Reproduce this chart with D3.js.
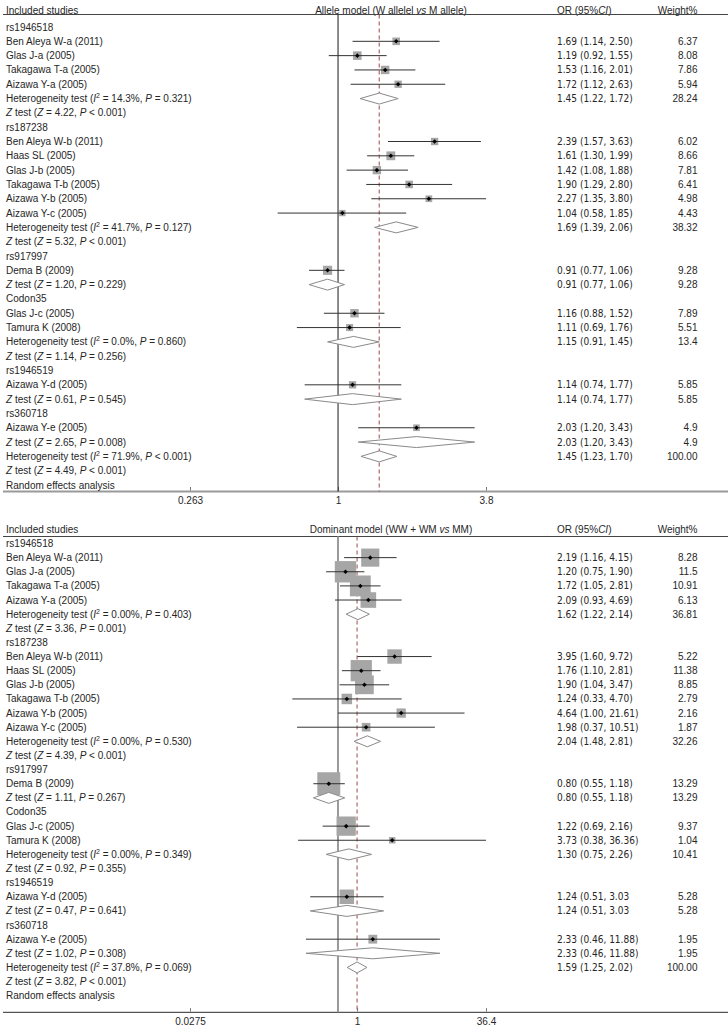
<!DOCTYPE html>
<html>
<head>
<meta charset="utf-8">
<script src="https://cdn.jsdelivr.net/npm/d3@7/dist/d3.min.js"></script>
<style>
  html, body { margin: 0; padding: 0; background: #fff; }
  svg { display: block; }
  text { font-family: "Liberation Sans", Arial, sans-serif; font-size: 10px; fill: #262626; }
  .num { font-family: "Liberation Sans Narrow", "Arial Narrow", "DejaVu Sans Condensed", sans-serif; }
</style>
</head>
<body>
<svg id="chart" width="728" height="1028"></svg>
<script>
// ---------------- DATA ----------------
// mark type per row: "sq" study square, "dm" pooled diamond, null = text only
const markType = [null,"sq","sq","sq","sq","dm",null,
  null,"sq","sq","sq","sq","sq","sq","dm",null,
  null,"sq","dm",
  null,"sq","sq","dm",null,
  null,"sq","dm",
  null,"sq","dm",
  "dm",null,null];

// Allele model
const alleleLabels = [
  "rs1946518","Ben Aleya W-a (2011)","Glas J-a (2005)","Takagawa T-a (2005)","Aizawa Y-a (2005)",
  "Heterogeneity test (_I_^2^ = 14.3%, _P_ = 0.321)","_Z_ test (_Z_ = 4.22, _P_ < 0.001)",
  "rs187238","Ben Aleya W-b (2011)","Haas SL (2005)","Glas J-b (2005)","Takagawa T-b (2005)","Aizawa Y-b (2005)","Aizawa Y-c (2005)",
  "Heterogeneity test (_I_^2^ = 41.7%, _P_ = 0.127)","_Z_ test (_Z_ = 5.32, _P_ < 0.001)",
  "rs917997","Dema B (2009)","_Z_ test (_Z_ = 1.20, _P_ = 0.229)",
  "Codon35","Glas J-c (2005)","Tamura K (2008)","Heterogeneity test (_I_^2^ = 0.0%, _P_ = 0.860)","_Z_ test (_Z_ = 1.14, _P_ = 0.256)",
  "rs1946519","Aizawa Y-d (2005)","_Z_ test (_Z_ = 0.61, _P_ = 0.545)",
  "rs360718","Aizawa Y-e (2005)","_Z_ test (_Z_ = 2.65, _P_ = 0.008)",
  "Heterogeneity test (_I_^2^ = 71.9%, _P_ < 0.001)","_Z_ test (_Z_ = 4.49, _P_ < 0.001)",
  "Random effects analysis"];
const alleleOR = [null,1.69,1.19,1.53,1.72,1.45,null, null,2.39,1.61,1.42,1.90,2.27,1.04,1.69,null,
  null,0.91,0.91, null,1.16,1.11,1.15,null, null,1.14,1.14, null,2.03,2.03, 1.45,null,null];
const alleleLo = [null,1.14,0.92,1.16,1.12,1.22,null, null,1.57,1.30,1.08,1.29,1.35,0.58,1.39,null,
  null,0.77,0.77, null,0.88,0.69,0.91,null, null,0.74,0.74, null,1.20,1.20, 1.23,null,null];
const alleleHi = [null,2.50,1.55,2.01,2.63,1.72,null, null,3.63,1.99,1.88,2.80,3.80,1.85,2.06,null,
  null,1.06,1.06, null,1.52,1.76,1.45,null, null,1.77,1.77, null,3.43,3.43, 1.70,null,null];
const alleleORText = [null,"1.69 (1.14, 2.50)","1.19 (0.92, 1.55)","1.53 (1.16, 2.01)","1.72 (1.12, 2.63)","1.45 (1.22, 1.72)",null,
  null,"2.39 (1.57, 3.63)","1.61 (1.30, 1.99)","1.42 (1.08, 1.88)","1.90 (1.29, 2.80)","2.27 (1.35, 3.80)","1.04 (0.58, 1.85)","1.69 (1.39, 2.06)",null,
  null,"0.91 (0.77, 1.06)","0.91 (0.77, 1.06)",
  null,"1.16 (0.88, 1.52)","1.11 (0.69, 1.76)","1.15 (0.91, 1.45)",null,
  null,"1.14 (0.74, 1.77)","1.14 (0.74, 1.77)",
  null,"2.03 (1.20, 3.43)","2.03 (1.20, 3.43)",
  "1.45 (1.23, 1.70)",null,null];
const alleleWeight = [null,"6.37","8.08","7.86","5.94","28.24",null,
  null,"6.02","8.66","7.81","6.41","4.98","4.43","38.32",null,
  null,"9.28","9.28", null,"7.89","5.51","13.4",null, null,"5.85","5.85", null,"4.9","4.9", "100.00",null,null];
const alleleTickValues = [0.263, 1, 3.8];
const alleleTickLabels = ["0.263","1","3.8"];

// Dominant model
const domLabels = [
  "rs1946518","Ben Aleya W-a (2011)","Glas J-a (2005)","Takagawa T-a (2005)","Aizawa Y-a (2005)",
  "Heterogeneity test (_I_^2^ = 0.00%, _P_ = 0.403)","_Z_ test (_Z_ = 3.36, _P_ = 0.001)",
  "rs187238","Ben Aleya W-b (2011)","Haas SL (2005)","Glas J-b (2005)","Takagawa T-b (2005)","Aizawa Y-b (2005)","Aizawa Y-c (2005)",
  "Heterogeneity test (_I_^2^ = 0.00%, _P_ = 0.530)","_Z_ test (_Z_ = 4.39, _P_ < 0.001)",
  "rs917997","Dema B (2009)","_Z_ test (_Z_ = 1.11, _P_ = 0.267)",
  "Codon35","Glas J-c (2005)","Tamura K (2008)","Heterogeneity test (_I_^2^ = 0.00%, _P_ = 0.349)","_Z_ test (_Z_ = 0.92, _P_ = 0.355)",
  "rs1946519","Aizawa Y-d (2005)","_Z_ test (_Z_ = 0.47, _P_ = 0.641)",
  "rs360718","Aizawa Y-e (2005)","_Z_ test (_Z_ = 1.02, _P_ = 0.308)",
  "Heterogeneity test (_I_^2^ = 37.8%, _P_ = 0.069)","_Z_ test (_Z_ = 3.82, _P_ < 0.001)",
  "Random effects analysis"];
const domOR = [null,2.19,1.20,1.72,2.09,1.62,null, null,3.95,1.76,1.90,1.24,4.64,1.98,2.04,null,
  null,0.80,0.80, null,1.22,3.73,1.30,null, null,1.24,1.24, null,2.33,2.33, 1.59,null,null];
const domLo = [null,1.16,0.75,1.05,0.93,1.22,null, null,1.60,1.10,1.04,0.33,1.00,0.37,1.48,null,
  null,0.55,0.55, null,0.69,0.38,0.75,null, null,0.51,0.51, null,0.46,0.46, 1.25,null,null];
const domHi = [null,4.15,1.90,2.81,4.69,2.14,null, null,9.72,2.81,3.47,4.70,21.61,10.51,2.81,null,
  null,1.18,1.18, null,2.16,36.36,2.26,null, null,3.03,3.03, null,11.88,11.88, 2.02,null,null];
const domORText = [null,"2.19 (1.16, 4.15)","1.20 (0.75, 1.90)","1.72 (1.05, 2.81)","2.09 (0.93, 4.69)","1.62 (1.22, 2.14)",null,
  null,"3.95 (1.60, 9.72)","1.76 (1.10, 2.81)","1.90 (1.04, 3.47)","1.24 (0.33, 4.70)","4.64 (1.00, 21.61)","1.98 (0.37, 10.51)","2.04 (1.48, 2.81)",null,
  null,"0.80 (0.55, 1.18)","0.80 (0.55, 1.18)",
  null,"1.22 (0.69, 2.16)","3.73 (0.38, 36.36)","1.30 (0.75, 2.26)",null,
  null,"1.24 (0.51, 3.03","1.24 (0.51, 3.03",
  null,"2.33 (0.46, 11.88)","2.33 (0.46, 11.88)",
  "1.59 (1.25, 2.02)",null,null];
const domWeight = [null,"8.28","11.5","10.91","6.13","36.81",null,
  null,"5.22","11.38","8.85","2.79","2.16","1.87","32.26",null,
  null,"13.29","13.29", null,"9.37","1.04","10.41",null, null,"5.28","5.28", null,"1.95","1.95", "100.00",null,null];
const domTickValues = [0.0275, 1.59, 36.4];   // the "1" label sits under the dashed pooled line in the original
const domTickLabels = ["0.0275","1","36.4"];

// ---------------- LAYOUT ----------------
const svg = d3.select("#chart");
svg.append("rect").attr("width",728).attr("height",1028).attr("fill","#fff");

const panels = [
  { labels: alleleLabels, or: alleleOR, lo: alleleLo, hi: alleleHi, orText: alleleORText, wText: alleleWeight,
    title: ["Allele model (W allelel ", "vs", " M allele)"],
    domain: [0.263, 3.8], tickValues: alleleTickValues, tickLabels: alleleTickLabels,
    headerY: 10, lineY: 14.5, row0: 27, rowN: 485, axisY: 491.5, tickLabelY: 500.5,
    sqMax: 30, refColor: "#1a1a1a", refWidth: 1, axisColor: "#9a9a9a", axisWidth: 2 },
  { labels: domLabels, or: domOR, lo: domLo, hi: domHi, orText: domORText, wText: domWeight,
    title: ["Dominant model (WW + WM ", "vs", " MM)"],
    domain: [0.0275, 36.4], tickValues: domTickValues, tickLabels: domTickLabels,
    headerY: 529, lineY: 536.5, row0: 543.5, rowN: 995.7, axisY: 1012.3, tickLabelY: 1021.7,
    sqMax: 63, refColor: "#9a9a9a", refWidth: 2, axisColor: "#555", axisWidth: 1.3 }
];

function richText(sel, str) {
  const parts = str.split(/(_[^_]+_|\^[^^]+\^)/).filter(s => s.length);
  let pendingDown = false;
  parts.forEach(p => {
    let t;
    if (p[0] === "_" && p[p.length-1] === "_") {
      t = sel.append("tspan").attr("font-style","italic").text(p.slice(1,-1));
    } else if (p[0] === "^" && p[p.length-1] === "^") {
      t = sel.append("tspan").attr("font-size","7px").attr("dy",-4).text(p.slice(1,-1));
      pendingDown = true; return;
    } else {
      t = sel.append("tspan").text(p);
    }
    if (pendingDown) { t.attr("dy", 4); pendingDown = false; }
  });
}

panels.forEach(P => {
  const g = svg.append("g");
  const n = P.labels.length;
  const x = d3.scaleLog().domain(P.domain).range([190, 486]);
  const y = d3.scaleLinear().domain([0, n-1]).range([P.row0, P.rowN]);
  const side = d3.scaleSqrt().domain([0,100]).range([0, P.sqMax]);
  const pooled = P.or[n-3];

  // header
  g.append("text").attr("x",6).attr("y",P.headerY).attr("dy","0.35em").text("Included studies");
  const tt = g.append("text").attr("x",391).attr("y",P.headerY).attr("dy","0.35em").attr("text-anchor","middle");
  tt.append("tspan").text(P.title[0]);
  tt.append("tspan").attr("font-style","italic").text(P.title[1]);
  tt.append("tspan").text(P.title[2]);
  const orh = g.append("text").attr("x",557).attr("y",P.headerY).attr("dy","0.35em");
  orh.append("tspan").text("OR (95%");
  orh.append("tspan").attr("font-style","italic").text("CI");
  orh.append("tspan").text(")");
  g.append("text").attr("x",697.5).attr("y",P.headerY).attr("dy","0.35em").attr("text-anchor","end").text("Weight%");
  g.append("line").attr("x1",3).attr("x2",728).attr("y1",P.lineY).attr("y2",P.lineY)
    .attr("stroke","#444").attr("stroke-width",1);

  // axis
  g.append("line").attr("x1",3).attr("x2",728).attr("y1",P.axisY).attr("y2",P.axisY)
    .attr("stroke",P.axisColor).attr("stroke-width",P.axisWidth);
  const axis = d3.axisBottom(x).tickValues(P.tickValues)
    .tickFormat((d,i) => P.tickLabels[i]).tickSizeInner(-3.5).tickSizeOuter(0).tickPadding(6);
  const ag = g.append("g").attr("transform",`translate(0,${P.axisY - P.axisWidth/2})`).call(axis);
  ag.select(".domain").remove();
  ag.selectAll(".tick line").attr("stroke","#777");
  ag.selectAll(".tick text").attr("y", P.tickLabelY - P.axisY + P.axisWidth/2).attr("dy","0.35em")
    .style("font-family",'"Liberation Sans", Arial, sans-serif').style("font-size","10px").attr("fill","#262626");

  // reference lines
  g.append("line").attr("x1",x(1)).attr("x2",x(1)).attr("y1",P.lineY).attr("y2",P.axisY)
    .attr("stroke",P.refColor).attr("stroke-width",P.refWidth);
  g.append("line").attr("x1",x(pooled)).attr("x2",x(pooled)).attr("y1",P.lineY).attr("y2",P.axisY)
    .attr("stroke","#9c4a4a").attr("stroke-width",1).attr("stroke-dasharray","4,3");

  // rows
  P.labels.forEach((lab, i) => {
    const t = g.append("text").attr("x",6).attr("y",y(i)).attr("dy","0.35em");
    richText(t, lab);
    if (P.orText[i]) {
      g.append("text").attr("class","num").attr("x",557).attr("y",y(i)).attr("dy","0.35em").text(P.orText[i]);
      g.append("text").attr("x",697.5).attr("y",y(i)).attr("dy","0.35em").attr("text-anchor","end").text(P.wText[i]);
    }
    const m = markType[i];
    if (m === "sq") {
      const s = side(+P.wText[i]);
      g.append("rect").attr("x",x(P.or[i]) - s/2).attr("y",y(i) - s/2).attr("width",s).attr("height",s)
        .attr("fill","#a6a6a6");
      g.append("line").attr("x1",x(P.lo[i])).attr("x2",x(P.hi[i])).attr("y1",y(i)).attr("y2",y(i))
        .attr("stroke","#333").attr("stroke-width",1);
      g.append("rect").attr("x",-1.6).attr("y",-1.6).attr("width",3.2).attr("height",3.2)
        .attr("transform",`translate(${x(P.or[i])},${y(i)}) rotate(45)`).attr("fill","#000");
    } else if (m === "dm") {
      const cx = x(P.or[i]), yy = y(i), h = 5.5;
      g.append("path")
        .attr("d", `M${x(P.lo[i])},${yy}L${cx},${yy-h}L${x(P.hi[i])},${yy}L${cx},${yy+h}Z`)
        .attr("fill","#fff").attr("stroke","#8a8a8a").attr("stroke-width",1);
    }
  });
});
</script>
</body>
</html>
